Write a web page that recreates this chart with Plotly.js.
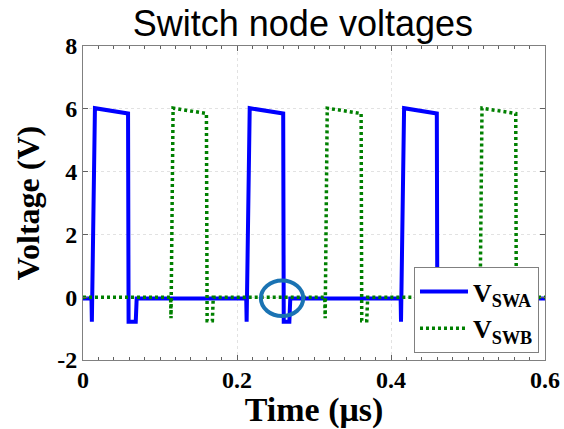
<!DOCTYPE html>
<html>
<head>
<meta charset="utf-8">
<script src="https://cdn.plot.ly/plotly-3.0.1.min.js"></script>
<style>
  html, body { margin: 0; padding: 0; background: #ffffff; }
  #chart { width: 564px; height: 429px; }
</style>
</head>
<body>
<div id="chart"></div>
<script>
// Switch node A: time (µs) and voltage (V)
const timeSWA = [0, 0.0110, 0.0115, 0.0155, 0.0585, 0.0592, 0.0685, 0.0697,
                 0.2120, 0.2125, 0.2165, 0.2600, 0.2607, 0.2680, 0.2692,
                 0.4125, 0.4130, 0.4170, 0.4595, 0.4602, 0.4680, 0.4692, 0.6];
const voltSWA = [-0.04, -0.04, -0.78, 6.02, 5.85, -0.78, -0.78, -0.04,
                 -0.04, -0.78, 6.02, 5.85, -0.78, -0.78, -0.04,
                 -0.04, -0.78, 6.02, 5.85, -0.78, -0.78, -0.04, -0.04];

// Switch node B: time (µs) and voltage (V)
const timeSWB = [0, 0.1138, 0.1143, 0.1170, 0.1603, 0.1612, 0.1680, 0.1692,
                 0.3140, 0.3145, 0.3172, 0.3612, 0.3620, 0.3685, 0.3697,
                 0.5150, 0.5155, 0.5182, 0.5620, 0.5628, 0.5690, 0.5702, 0.6];
const voltSWB = [0, 0, -0.67, 6.02, 5.85, -0.75, -0.75, 0,
                 0, -0.67, 6.02, 5.85, -0.75, -0.75, 0,
                 0, -0.67, 6.02, 5.85, -0.75, -0.75, 0, 0];

const xTicks = [0, 0.2, 0.4, 0.6];
const xTickText = ['0', '0.2', '0.4', '0.6'];
const yTicks = [-2, 0, 2, 4, 6, 8];
const yTickText = ['-2', '0', '2', '4', '6', '8'];

const serif = 'Liberation Serif';

const traces = [
  {
    x: timeSWA, y: voltSWA, type: 'scatter', mode: 'lines',
    name: 'V<sub>SWA</sub>',
    line: { color: '#0000ff', width: 4 }
  },
  {
    x: timeSWB, y: voltSWB, type: 'scatter', mode: 'lines',
    name: 'V<sub>SWB</sub>',
    line: { color: '#008000', width: 3.5, dash: '3px,3px' }
  }
];

function axisBase() {
  return {
    showline: true, linecolor: '#808080', linewidth: 1, mirror: 'allticks',
    ticks: 'inside', ticklen: 5, tickcolor: '#606060', tickwidth: 1,
    showgrid: true, gridcolor: '#e2e2e2', griddash: 'dot', gridwidth: 1,
    zeroline: false,
    tickfont: { family: serif, size: 24, color: '#000000', weight: 'bold' }
  };
}

const layout = {
  width: 564, height: 429,
  margin: { l: 83, r: 19, t: 46, b: 69 },
  paper_bgcolor: '#ffffff', plot_bgcolor: '#ffffff',
  font: { family: serif, color: '#000000', weight: 'bold' },
  showlegend: true,
  title: {
    text: 'Switch node voltages',
    font: { family: 'Liberation Sans', size: 36, color: '#000000', weight: 'normal' },
    x: 0.476, xref: 'paper', xanchor: 'center',
    y: 0.945, yref: 'container', yanchor: 'middle'
  },
  xaxis: Object.assign(axisBase(), {
    range: [0, 0.6], tickmode: 'array', tickvals: xTicks, ticktext: xTickText,
    ticklabelstandoff: -2,
    minor: { dtick: 0.02, ticks: 'inside', ticklen: 3, tickcolor: '#606060', showgrid: false },
    title: { text: 'Time (μs)', standoff: 0,
             font: { family: serif, size: 34, color: '#000000', weight: 'bold' } }
  }),
  yaxis: Object.assign(axisBase(), {
    range: [-2, 8], tickmode: 'array', tickvals: yTicks, ticktext: yTickText,
    title: { text: 'Voltage (V)', standoff: 8,
             font: { family: serif, size: 32, color: '#000000', weight: 'bold' } }
  }),
  legend: {
    x: 0.987, xanchor: 'right', y: 0.022, yanchor: 'bottom',
    bgcolor: '#ffffff', bordercolor: '#808080', borderwidth: 1,
    font: { family: serif, size: 26, color: '#000000', weight: 'bold' },
    itemwidth: 48
  },
  shapes: [
    {
      type: 'circle', xref: 'x', yref: 'y',
      x0: 0.231, x1: 0.286, y0: -0.6, y1: 0.53,
      line: { color: '#1a73b3', width: 4 }, fillcolor: 'rgba(0,0,0,0)'
    }
  ]
};

Plotly.newPlot('chart', traces, layout, { displayModeBar: false, staticPlot: true });
</script>
</body>
</html>
